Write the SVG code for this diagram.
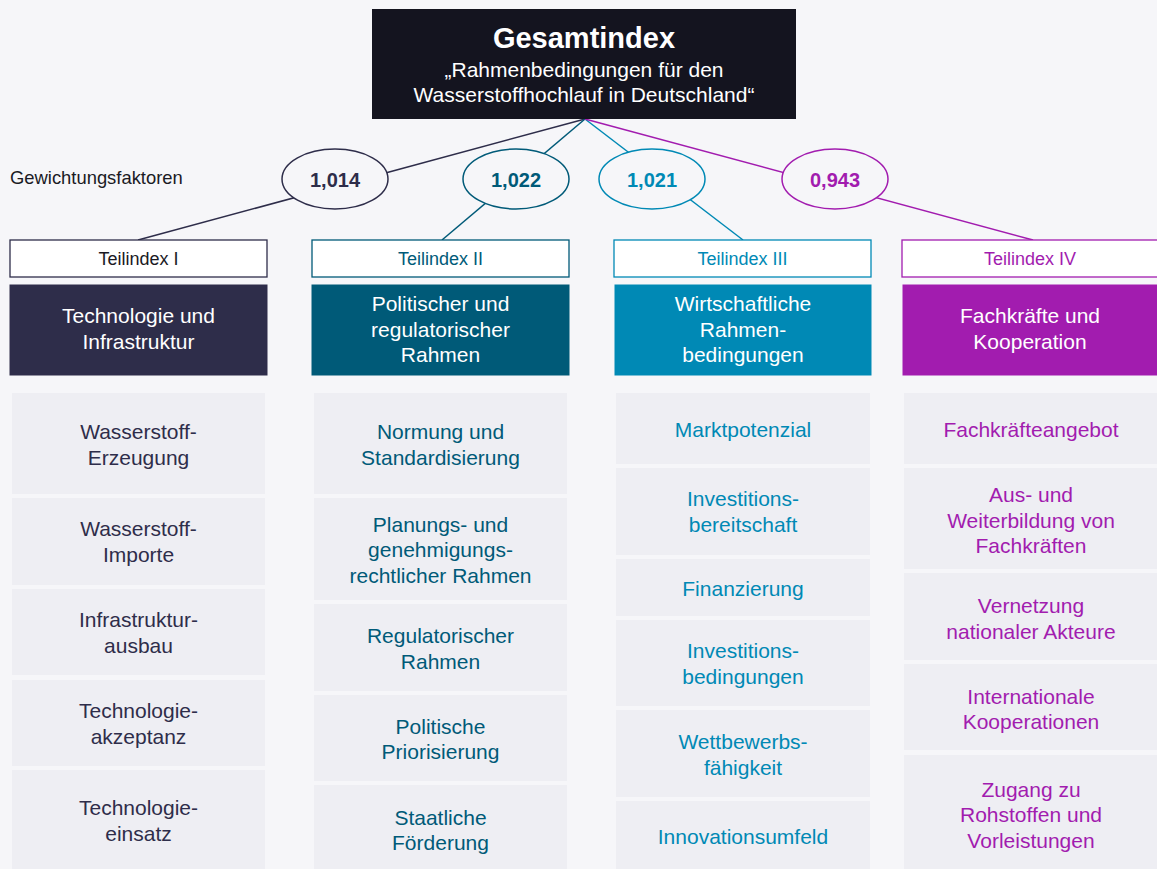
<svg xmlns="http://www.w3.org/2000/svg" width="1157" height="869" viewBox="0 0 1157 869">
  <style>
    text { font-family: "Liberation Sans", Arial, sans-serif; text-anchor: middle; }
    .title { font-size: 29px; font-weight: bold; fill: #ffffff; }
    .sub { font-size: 21px; fill: #ffffff; }
    .note { font-size: 18.4px; fill: #1a1a24; text-anchor: start; }
    .w { font-size: 20px; font-weight: bold; }
    .ti { font-size: 18px; }
    .hd { font-size: 21px; fill: #ffffff; }
    .cell { fill: #eeeef3; }
    .ct { font-size: 21px; }
    .c1 { fill: #2e2d4a; stroke: #2e2d4a; }
    .c2 { fill: #005a78; stroke: #005a78; }
    .c3 { fill: #0089b5; stroke: #0089b5; }
    .c4 { fill: #a21caf; stroke: #a21caf; }
    text.c1, text.c2, text.c3, text.c4 { stroke: none; }
    .link { fill: none; stroke-width: 1.5; }
    .oval { stroke-width: 1.5; }
    .tbox { stroke-width: 1.3; }
  </style>

  <rect x="0" y="0" width="1157" height="869" fill="#f6f6f9"/>

  <!-- connectors from the overall index to the four sub-indices -->
  <g id="connectors">
    <line class="link c1" x1="585" y1="119" x2="138" y2="240"/>
    <line class="link c2" x1="585" y1="119" x2="442" y2="240"/>
    <line class="link c3" x1="585" y1="119" x2="743" y2="240"/>
    <line class="link c4" x1="585" y1="119" x2="1033" y2="240"/>
  </g>

  <g id="gesamtindex">
    <rect x="372" y="9" width="424" height="110" fill="#14141f"/>
    <text class="title" x="584" y="48">Gesamtindex</text>
    <text class="sub" x="584" y="77">„Rahmenbedingungen für den</text>
    <text class="sub" x="584" y="102">Wasserstoffhochlauf in Deutschland“</text>
  </g>

  <g id="label-gewichtung">
    <text class="note" x="10" y="184">Gewichtungsfaktoren</text>
  </g>

  <!-- weighting factors -->
  <g id="weight-1">
    <ellipse class="oval c1" cx="335" cy="179" rx="53" ry="30" style="fill:#f6f6f9"/>
    <text class="w c1" x="335" y="187">1,014</text>
  </g>
  <g id="weight-2">
    <ellipse class="oval c2" cx="516" cy="179" rx="53" ry="30" style="fill:#f6f6f9"/>
    <text class="w c2" x="516" y="187">1,022</text>
  </g>
  <g id="weight-3">
    <ellipse class="oval c3" cx="652" cy="179" rx="53" ry="30" style="fill:#f6f6f9"/>
    <text class="w c3" x="652" y="187">1,021</text>
  </g>
  <g id="weight-4">
    <ellipse class="oval c4" cx="835" cy="179" rx="53" ry="30" style="fill:#f6f6f9"/>
    <text class="w c4" x="835" y="187">0,943</text>
  </g>

  <!-- Teilindex I -->
  <g id="teilindex-1">
    <rect class="tbox c1" x="10" y="240" width="257" height="37" style="fill:#ffffff"/>
    <text class="ti" x="138.5" y="265" fill="#1a1a24">Teilindex I</text>
    <rect class="c1" x="10" y="285" width="257" height="90"/>
    <text class="hd" x="138.5" y="323">Technologie und</text>
    <text class="hd" x="138.5" y="349">Infrastruktur</text>
  </g>
  <g id="teilindex-1-items">
    <rect class="cell" x="12" y="393" width="253" height="101"/>
    <text class="ct c1" x="138.5" y="439">Wasserstoff-</text>
    <text class="ct c1" x="138.5" y="465">Erzeugung</text>
    <rect class="cell" x="12" y="498" width="253" height="87"/>
    <text class="ct c1" x="138.5" y="536">Wasserstoff-</text>
    <text class="ct c1" x="138.5" y="562">Importe</text>
    <rect class="cell" x="12" y="589" width="253" height="86"/>
    <text class="ct c1" x="138.5" y="627">Infrastruktur-</text>
    <text class="ct c1" x="138.5" y="653">ausbau</text>
    <rect class="cell" x="12" y="680" width="253" height="86"/>
    <text class="ct c1" x="138.5" y="718">Technologie-</text>
    <text class="ct c1" x="138.5" y="744">akzeptanz</text>
    <rect class="cell" x="12" y="770" width="253" height="99"/>
    <text class="ct c1" x="138.5" y="815">Technologie-</text>
    <text class="ct c1" x="138.5" y="841">einsatz</text>
  </g>

  <!-- Teilindex II -->
  <g id="teilindex-2">
    <rect class="tbox c2" x="312" y="240" width="257" height="37" style="fill:#ffffff"/>
    <text class="ti c2" x="440.5" y="265">Teilindex II</text>
    <rect class="c2" x="312" y="285" width="257" height="90"/>
    <text class="hd" x="440.5" y="311">Politischer und</text>
    <text class="hd" x="440.5" y="337">regulatorischer</text>
    <text class="hd" x="440.5" y="362">Rahmen</text>
  </g>
  <g id="teilindex-2-items">
    <rect class="cell" x="314" y="393" width="253" height="101"/>
    <text class="ct c2" x="440.5" y="439">Normung und</text>
    <text class="ct c2" x="440.5" y="465">Standardisierung</text>
    <rect class="cell" x="314" y="498" width="253" height="102"/>
    <text class="ct c2" x="440.5" y="532">Planungs- und</text>
    <text class="ct c2" x="440.5" y="557">genehmigungs-</text>
    <text class="ct c2" x="440.5" y="583">rechtlicher Rahmen</text>
    <rect class="cell" x="314" y="604" width="253" height="87"/>
    <text class="ct c2" x="440.5" y="643">Regulatorischer</text>
    <text class="ct c2" x="440.5" y="669">Rahmen</text>
    <rect class="cell" x="314" y="695" width="253" height="86"/>
    <text class="ct c2" x="440.5" y="734">Politische</text>
    <text class="ct c2" x="440.5" y="759">Priorisierung</text>
    <rect class="cell" x="314" y="785" width="253" height="84"/>
    <text class="ct c2" x="440.5" y="825">Staatliche</text>
    <text class="ct c2" x="440.5" y="850">Förderung</text>
  </g>

  <!-- Teilindex III -->
  <g id="teilindex-3">
    <rect class="tbox c3" x="614" y="240" width="257" height="37" style="fill:#ffffff"/>
    <text class="ti c3" x="742.5" y="265">Teilindex III</text>
    <rect class="c3" x="615" y="285" width="256" height="90"/>
    <text class="hd" x="743" y="311">Wirtschaftliche</text>
    <text class="hd" x="743" y="337">Rahmen-</text>
    <text class="hd" x="743" y="362">bedingungen</text>
  </g>
  <g id="teilindex-3-items">
    <rect class="cell" x="616" y="393" width="254" height="71"/>
    <text class="ct c3" x="743" y="437">Marktpotenzial</text>
    <rect class="cell" x="616" y="468" width="254" height="87"/>
    <text class="ct c3" x="743" y="506">Investitions-</text>
    <text class="ct c3" x="743" y="532">bereitschaft</text>
    <rect class="cell" x="616" y="559" width="254" height="57"/>
    <text class="ct c3" x="743" y="596">Finanzierung</text>
    <rect class="cell" x="616" y="620" width="254" height="86"/>
    <text class="ct c3" x="743" y="658">Investitions-</text>
    <text class="ct c3" x="743" y="684">bedingungen</text>
    <rect class="cell" x="616" y="710" width="254" height="87"/>
    <text class="ct c3" x="743" y="749">Wettbewerbs-</text>
    <text class="ct c3" x="743" y="775">fähigkeit</text>
    <rect class="cell" x="616" y="801" width="254" height="68"/>
    <text class="ct c3" x="743" y="844">Innovationsumfeld</text>
  </g>

  <!-- Teilindex IV -->
  <g id="teilindex-4">
    <rect class="tbox c4" x="902" y="240" width="257" height="37" style="fill:#ffffff"/>
    <text class="ti c4" x="1030" y="265">Teilindex IV</text>
    <rect class="c4" x="903" y="285" width="256" height="90"/>
    <text class="hd" x="1030" y="323">Fachkräfte und</text>
    <text class="hd" x="1030" y="349">Kooperation</text>
  </g>
  <g id="teilindex-4-items">
    <rect class="cell" x="904" y="393" width="255" height="71"/>
    <text class="ct c4" x="1031" y="437">Fachkräfteangebot</text>
    <rect class="cell" x="904" y="468" width="255" height="101"/>
    <text class="ct c4" x="1031" y="502">Aus- und</text>
    <text class="ct c4" x="1031" y="528">Weiterbildung von</text>
    <text class="ct c4" x="1031" y="553">Fachkräften</text>
    <rect class="cell" x="904" y="573" width="255" height="87"/>
    <text class="ct c4" x="1031" y="613">Vernetzung</text>
    <text class="ct c4" x="1031" y="639">nationaler Akteure</text>
    <rect class="cell" x="904" y="664" width="255" height="86"/>
    <text class="ct c4" x="1031" y="704">Internationale</text>
    <text class="ct c4" x="1031" y="729">Kooperationen</text>
    <rect class="cell" x="904" y="755" width="255" height="114"/>
    <text class="ct c4" x="1031" y="797">Zugang zu</text>
    <text class="ct c4" x="1031" y="822">Rohstoffen und</text>
    <text class="ct c4" x="1031" y="848">Vorleistungen</text>
  </g>
</svg>
